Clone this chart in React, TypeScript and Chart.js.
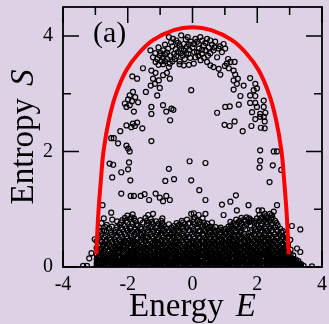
import React, { useEffect, useRef } from 'react';
import { Chart, registerables } from 'chart.js';

Chart.register(...registerables);

const BG = '#dcd1e5';
const X_TICKS = [-4, -2, 0, 2, 4];
const Y_TICKS = [0, 2, 4];
const X_MINOR = [-3, -1, 1, 3];
const Y_MINOR = [1, 3];

// red curve S(E)
const curveE = [-2.97, -2.94, -2.9, -2.83, -2.75, -2.58, -2.36, -2.04, -1.66, -1.21, -0.58, 0, 0.58, 1.21, 1.66, 2.04, 2.36, 2.58, 2.75, 2.83, 2.9, 2.94, 2.97];
const curveS = [0.22, 0.6, 1.0, 1.5, 2.0, 2.55, 3.0, 3.41, 3.7, 3.93, 4.1, 4.15, 4.1, 3.93, 3.7, 3.41, 3.0, 2.55, 2.0, 1.5, 1.0, 0.6, 0.22];

// sparse circles in the upper dome (left half)
const domeLeft: [number, number][] = [
  [-0.73, 3.98], [-0.5, 3.92], [-0.35, 4.01], [-0.21, 3.94], [-0.27, 3.86], [-0.11, 3.85], [-0.4, 3.83], [-1.3, 3.75], [-0.91, 3.75], [-0.79, 3.71],
  [-1.01, 3.66], [-0.91, 3.62], [-1.09, 3.6], [-0.96, 3.56], [-0.79, 3.6], [-0.69, 3.66], [-0.57, 3.69], [-0.45, 3.72], [-0.27, 3.75], [-0.13, 3.69],
  [-0.07, 3.62], [-0.24, 3.6], [-0.4, 3.56], [-0.55, 3.6], [-0.7, 3.52], [-0.91, 3.51], [-1.14, 3.55], [-1.22, 3.63], [-1.53, 3.44], [-1.27, 3.4],
  [-1.14, 3.36], [-0.91, 3.32], [-0.79, 3.36], [-0.7, 3.26], [-0.73, 3.46], [-0.4, 3.51], [-0.27, 3.49], [-0.11, 3.5], [-1.86, 3.3], [-1.71, 3.26],
  [-1.22, 3.26], [-1.16, 3.17], [-1.04, 3.23], [-1.29, 3.14], [-1.01, 3.1], [-1.09, 2.97], [-1.44, 3.03], [-1.84, 3.03], [-1.94, 2.97], [-1.99, 2.9],
  [-1.87, 2.87], [-1.77, 2.94], [-2.09, 2.83], [-2.04, 2.77], [-1.94, 2.8], [-1.81, 2.69], [-1.68, 2.85], [-1.27, 2.77], [-0.91, 2.8], [-0.65, 2.74],
  [-0.81, 2.69], [-1.27, 2.65], [-0.04, 3.06], [-0.6, 3.95], [-0.15, 3.98], [-0.05, 3.9], [0.0, 3.8], [-0.35, 3.78], [-0.62, 3.82], [-0.85, 3.85],
  [-1.05, 3.8], [-0.2, 3.7], [0.05, 3.72], [-0.5, 3.65], [-1.15, 3.7], [-0.66, 3.89], [-0.3, 3.66], [-0.85, 3.68], [-0.59, 2.72], [-0.69, 2.54],
  [-0.45, 3.88], [-0.18, 3.81], [-0.52, 3.77], [-0.75, 3.78], [-0.98, 3.7], [-0.36, 3.7], [-0.1, 3.76], [-0.62, 3.56], [-0.85, 3.56], [-1.05, 3.5],
];

// sparse circles in the upper dome (right half)
const domeRight: [number, number][] = [
  [0.09, 3.95], [0.24, 3.98], [0.45, 3.95], [0.55, 3.92], [0.04, 3.86], [0.19, 3.86], [0.35, 3.83], [0.5, 3.8], [0.65, 3.75], [0.81, 3.78],
  [0.96, 3.86], [1.01, 3.78], [0.91, 3.72], [0.76, 3.63], [0.14, 3.72], [0.29, 3.69], [0.09, 3.63], [0.4, 3.75], [0.45, 3.55], [0.55, 3.49],
  [0.65, 3.46], [0.81, 3.43], [0.86, 3.33], [0.04, 3.52], [1.06, 3.52], [1.17, 3.55], [1.3, 3.55], [1.12, 3.44], [1.27, 3.4], [1.32, 3.33],
  [1.4, 3.26], [1.27, 3.23], [1.37, 3.17], [1.58, 3.14], [1.27, 3.07], [1.78, 3.27], [1.94, 3.17], [1.99, 3.09], [1.89, 3.06], [1.78, 2.97],
  [1.94, 2.96], [1.48, 2.96], [1.43, 2.81], [1.01, 2.77], [1.15, 2.78], [2.2, 2.88], [1.78, 2.84], [1.94, 2.84], [1.99, 2.77], [2.2, 2.77],
  [1.84, 2.68], [2.09, 2.65], [2.25, 2.67], [0.76, 2.67], [0.3, 3.92], [0.6, 3.85], [0.2, 3.78], [0.7, 3.9], [0.85, 3.82], [0.55, 3.7],
  [0.35, 3.62], [0.25, 3.58], [1.1, 3.6], [1.0, 3.48], [0.14, 3.9], [0.4, 3.88], [0.68, 3.8], [0.3, 3.76], [0.48, 3.66], [0.18, 3.66],
];

// scattered circles between the dome and the dense band
const middlePoints: [number, number][] = [
  [-2.04, 2.45], [-1.89, 2.42], [-1.84, 2.48], [-1.71, 2.5], [-1.78, 2.44], [-1.55, 2.4], [-2.23, 2.35], [-2.51, 2.23], [-2.43, 2.23], [-2.3, 2.14],
  [-2.04, 2.1], [-1.99, 2.05], [-1.94, 2.0], [-1.27, 2.18], [-2.56, 1.79], [-2.45, 1.77], [-1.96, 1.81], [-1.99, 1.69], [-2.2, 1.64], [-2.48, 1.55],
  [-1.92, 1.5], [-0.73, 1.7], [-0.57, 1.52], [-0.84, 1.49], [-0.09, 1.83], [-0.04, 1.5], [-2.2, 1.27], [-1.91, 1.23], [-1.81, 1.23], [-1.6, 1.23],
  [-1.48, 1.26], [-1.14, 1.27], [-1.01, 1.2], [-0.91, 1.14], [-0.81, 1.23], [-0.7, 1.16], [-1.34, 1.16], [-2.78, 1.07],
  [0.99, 2.46], [1.15, 2.44], [1.3, 2.52], [1.55, 2.35], [1.82, 2.44], [1.94, 2.56], [2.11, 2.41], [2.23, 2.4], [2.23, 2.52], [2.09, 2.6],
  [2.2, 2.6], [2.09, 2.02], [2.51, 2.0], [2.61, 2.0], [2.09, 1.84], [2.07, 1.72], [2.48, 1.76], [2.74, 1.68], [2.38, 1.47], [0.4, 1.8],
  [0.21, 1.33], [0.4, 1.16], [0.91, 1.08], [1.17, 1.13], [1.34, 1.24], [1.73, 1.07], [2.61, 1.07],
  [-2.51, 0.94], [-2.74, 0.84], [-2.48, 0.82], [-1.81, 0.84], [-1.37, 0.9], [-1.22, 0.92], [-0.93, 0.84], [-0.04, 0.92], [-3.02, 0.48], [-3.19, 0.15],
  [-3.38, 0.02], [-3.26, 0.02], [-3.12, 0.24], [0.96, 0.9], [1.37, 0.98], [1.17, 0.78], [2.04, 0.98], [2.15, 0.98], [2.51, 0.96], [2.45, 0.9],
  [2.3, 0.84], [3.07, 0.71], [3.33, 0.65], [3.02, 0.47], [3.33, 0.26], [3.23, 0.32], [3.69, 0.01], [0.04, 0.93], [0.19, 0.9], [0.4, 0.92],
  [0.45, 0.75], [0.6, 0.77],
];

// dense band near S = 0: each entry is an energy column and the entropies of its circles
const bandColumns: [number, number[]][] = [
  [-2.96, [0.02, 0.07, 0.13, 0.21, 0.33, 0.45]],
  [-2.89, [0.03, 0.1, 0.17, 0.26, 0.37, 0.52, 0.68]],
  [-2.81, [0.02, 0.06, 0.12, 0.23, 0.32, 0.43, 0.57, 0.76]],
  [-2.73, [0.04, 0.11, 0.18, 0.28, 0.39, 0.51, 0.63]],
  [-2.65, [0.02, 0.08, 0.15, 0.22, 0.34, 0.46, 0.61, 0.73]],
  [-2.57, [0.03, 0.1, 0.19, 0.27, 0.38, 0.5, 0.67]],
  [-2.49, [0.02, 0.06, 0.14, 0.2, 0.31, 0.43, 0.56, 0.7]],
  [-2.41, [0.05, 0.11, 0.17, 0.26, 0.36, 0.48, 0.59]],
  [-2.33, [0.02, 0.08, 0.13, 0.23, 0.32, 0.4, 0.54, 0.69, 0.79]],
  [-2.25, [0.03, 0.09, 0.18, 0.27, 0.35, 0.47, 0.6, 0.73]],
  [-2.17, [0.02, 0.07, 0.12, 0.21, 0.3, 0.41, 0.52, 0.65, 0.81]],
  [-2.09, [0.04, 0.1, 0.16, 0.25, 0.34, 0.45, 0.57, 0.71, 0.85]],
  [-2.01, [0.02, 0.08, 0.15, 0.22, 0.29, 0.38, 0.49, 0.63, 0.77, 0.89]],
  [-1.93, [0.03, 0.09, 0.17, 0.24, 0.36, 0.46, 0.58, 0.67, 0.83]],
  [-1.85, [0.02, 0.06, 0.13, 0.19, 0.28, 0.39, 0.48, 0.61, 0.75, 0.91]],
  [-1.77, [0.04, 0.11, 0.16, 0.25, 0.33, 0.42, 0.56, 0.65, 0.8]],
  [-1.69, [0.02, 0.08, 0.14, 0.22, 0.31, 0.4, 0.51, 0.62, 0.71]],
  [-1.61, [0.03, 0.09, 0.18, 0.26, 0.35, 0.47, 0.58, 0.69, 0.81]],
  [-1.53, [0.02, 0.07, 0.12, 0.2, 0.3, 0.39, 0.5, 0.6, 0.77]],
  [-1.45, [0.05, 0.1, 0.17, 0.24, 0.33, 0.44, 0.53, 0.66, 0.85]],
  [-1.37, [0.02, 0.08, 0.14, 0.21, 0.29, 0.4, 0.52, 0.64, 0.76]],
  [-1.29, [0.03, 0.09, 0.16, 0.26, 0.35, 0.45, 0.57, 0.7, 0.83]],
  [-1.21, [0.02, 0.07, 0.13, 0.19, 0.28, 0.37, 0.49, 0.61, 0.74]],
  [-1.13, [0.04, 0.1, 0.17, 0.24, 0.34, 0.44, 0.55, 0.68, 0.79]],
  [-1.05, [0.02, 0.08, 0.14, 0.22, 0.31, 0.42, 0.52, 0.63, 0.75]],
  [-0.97, [0.03, 0.09, 0.16, 0.26, 0.36, 0.46, 0.59, 0.71, 0.8]],
  [-0.89, [0.02, 0.06, 0.13, 0.2, 0.29, 0.39, 0.51, 0.62, 0.72]],
  [-0.81, [0.04, 0.11, 0.17, 0.24, 0.34, 0.45, 0.56, 0.67]],
  [-0.73, [0.02, 0.08, 0.14, 0.21, 0.3, 0.41, 0.53, 0.64, 0.74]],
  [-0.65, [0.03, 0.09, 0.16, 0.26, 0.37, 0.47, 0.58, 0.68]],
  [-0.57, [0.02, 0.07, 0.13, 0.2, 0.28, 0.39, 0.5, 0.6, 0.71]],
  [-0.49, [0.04, 0.1, 0.17, 0.24, 0.33, 0.43, 0.54, 0.66, 0.76]],
  [-0.41, [0.02, 0.08, 0.14, 0.22, 0.31, 0.41, 0.52, 0.63, 0.73]],
  [-0.33, [0.03, 0.09, 0.16, 0.25, 0.35, 0.46, 0.58, 0.7, 0.8]],
  [-0.25, [0.02, 0.06, 0.13, 0.2, 0.29, 0.39, 0.5, 0.62, 0.74]],
  [-0.17, [0.04, 0.11, 0.17, 0.24, 0.33, 0.44, 0.56, 0.68, 0.82]],
  [-0.09, [0.02, 0.08, 0.14, 0.21, 0.3, 0.4, 0.51, 0.63, 0.76]],
  [-0.01, [0.03, 0.09, 0.16, 0.25, 0.35, 0.45, 0.57, 0.7]],
  [0.07, [0.02, 0.07, 0.13, 0.2, 0.28, 0.38, 0.49, 0.6, 0.74, 0.86]],
  [0.15, [0.04, 0.1, 0.17, 0.24, 0.34, 0.44, 0.56, 0.68, 0.8]],
  [0.23, [0.02, 0.08, 0.14, 0.21, 0.3, 0.4, 0.51, 0.63, 0.78]],
  [0.31, [0.03, 0.09, 0.16, 0.26, 0.36, 0.47, 0.58, 0.7, 0.84]],
  [0.39, [0.02, 0.06, 0.13, 0.2, 0.29, 0.39, 0.5, 0.62, 0.72]],
  [0.47, [0.04, 0.11, 0.17, 0.24, 0.33, 0.43, 0.54, 0.66]],
  [0.55, [0.02, 0.08, 0.14, 0.22, 0.31, 0.41, 0.52, 0.64, 0.7]],
  [0.63, [0.03, 0.09, 0.16, 0.25, 0.35, 0.45, 0.56, 0.66]],
  [0.71, [0.02, 0.07, 0.13, 0.2, 0.29, 0.39, 0.5, 0.6, 0.69]],
  [0.79, [0.04, 0.1, 0.17, 0.24, 0.33, 0.43, 0.53, 0.63]],
  [0.87, [0.02, 0.08, 0.14, 0.21, 0.3, 0.4, 0.5, 0.6, 0.68]],
  [0.95, [0.03, 0.09, 0.16, 0.25, 0.34, 0.44, 0.54, 0.64]],
  [1.03, [0.02, 0.06, 0.13, 0.2, 0.29, 0.38, 0.48, 0.58, 0.66]],
  [1.11, [0.04, 0.11, 0.17, 0.24, 0.33, 0.42, 0.52, 0.62, 0.7]],
  [1.19, [0.02, 0.08, 0.14, 0.22, 0.31, 0.41, 0.51, 0.6, 0.72]],
  [1.27, [0.03, 0.09, 0.16, 0.25, 0.34, 0.44, 0.55, 0.66, 0.76]],
  [1.35, [0.02, 0.07, 0.13, 0.2, 0.29, 0.39, 0.5, 0.62, 0.74, 0.82]],
  [1.43, [0.04, 0.1, 0.17, 0.24, 0.33, 0.43, 0.54, 0.66, 0.78]],
  [1.51, [0.02, 0.08, 0.14, 0.21, 0.3, 0.4, 0.51, 0.63, 0.75, 0.85]],
  [1.59, [0.03, 0.09, 0.16, 0.26, 0.36, 0.47, 0.58, 0.7, 0.82]],
  [1.67, [0.02, 0.06, 0.13, 0.2, 0.29, 0.39, 0.5, 0.74, 0.86]],
  [1.75, [0.04, 0.11, 0.17, 0.24, 0.33, 0.43, 0.54, 0.78, 0.84]],
  [1.83, [0.02, 0.08, 0.14, 0.22, 0.31, 0.41, 0.52, 0.64, 0.8]],
  [1.91, [0.03, 0.09, 0.16, 0.25, 0.35, 0.46, 0.57, 0.68, 0.76]],
  [1.99, [0.02, 0.07, 0.13, 0.2, 0.29, 0.39, 0.5, 0.62, 0.74, 0.84]],
  [2.07, [0.04, 0.1, 0.17, 0.24, 0.33, 0.44, 0.55, 0.67, 0.8, 0.9]],
  [2.15, [0.02, 0.08, 0.14, 0.21, 0.3, 0.4, 0.51, 0.63, 0.75, 0.86]],
  [2.23, [0.03, 0.09, 0.16, 0.26, 0.36, 0.47, 0.59, 0.7, 0.82, 0.92]],
  [2.31, [0.02, 0.06, 0.13, 0.2, 0.29, 0.39, 0.5, 0.62, 0.74, 0.86]],
  [2.39, [0.04, 0.11, 0.17, 0.24, 0.33, 0.43, 0.55, 0.67, 0.8, 0.92]],
  [2.47, [0.02, 0.08, 0.14, 0.22, 0.31, 0.41, 0.52, 0.64, 0.76, 0.86]],
  [2.55, [0.03, 0.09, 0.16, 0.25, 0.35, 0.46, 0.57, 0.69, 0.8]],
  [2.63, [0.02, 0.07, 0.13, 0.2, 0.29, 0.39, 0.5, 0.62, 0.72]],
  [2.71, [0.04, 0.1, 0.17, 0.24, 0.33, 0.44, 0.55, 0.66]],
  [2.79, [0.02, 0.08, 0.14, 0.21, 0.3, 0.4, 0.52, 0.62]],
  [2.87, [0.03, 0.09, 0.16, 0.25, 0.35, 0.46, 0.56]],
  [2.95, [0.02, 0.06, 0.11, 0.18, 0.27, 0.38]],
  [3.03, [0.02, 0.06, 0.1, 0.15, 0.22, 0.3]],
  [3.11, [0.02, 0.05, 0.09, 0.14, 0.2]],
  [3.19, [0.02, 0.05, 0.09, 0.13]],
  [3.27, [0.02, 0.06, 0.1]],
  [3.35, [0.02, 0.05]],
  [3.43, [0.02]],
];

// extra circles filling the darkest lower part of the band (between the columns above)
const bandLower: [number, number[]][] = [
  [-2.92, [0.01, 0.05, 0.1, 0.17, 0.27]],
  [-2.77, [0.02, 0.05, 0.09, 0.15, 0.25, 0.36]],
  [-2.61, [0.01, 0.05, 0.11, 0.18, 0.29, 0.41]],
  [-2.45, [0.02, 0.04, 0.09, 0.16, 0.23, 0.33]],
  [-2.29, [0.01, 0.05, 0.1, 0.18, 0.27, 0.38]],
  [-2.13, [0.02, 0.05, 0.09, 0.15, 0.24, 0.35, 0.44]],
  [-1.97, [0.01, 0.04, 0.11, 0.19, 0.27, 0.41]],
  [-1.81, [0.02, 0.05, 0.1, 0.16, 0.23, 0.33, 0.44]],
  [-1.65, [0.01, 0.05, 0.09, 0.17, 0.28, 0.37]],
  [-1.49, [0.02, 0.04, 0.1, 0.15, 0.26, 0.35, 0.46]],
  [-1.33, [0.01, 0.05, 0.11, 0.18, 0.24, 0.34]],
  [-1.17, [0.02, 0.05, 0.09, 0.14, 0.22, 0.3, 0.41]],
  [-1.01, [0.01, 0.04, 0.1, 0.19, 0.27, 0.39]],
  [-0.85, [0.02, 0.05, 0.11, 0.16, 0.24, 0.34, 0.45]],
  [-0.69, [0.01, 0.05, 0.09, 0.18, 0.26, 0.36]],
  [-0.53, [0.02, 0.04, 0.1, 0.15, 0.23, 0.31, 0.44]],
  [-0.37, [0.01, 0.05, 0.11, 0.19, 0.27, 0.38]],
  [-0.21, [0.02, 0.05, 0.09, 0.17, 0.24, 0.35, 0.47]],
  [-0.05, [0.01, 0.04, 0.1, 0.14, 0.22, 0.32, 0.42]],
  [0.11, [0.02, 0.05, 0.11, 0.18, 0.26, 0.37]],
  [0.27, [0.01, 0.05, 0.09, 0.16, 0.25, 0.34, 0.45]],
  [0.43, [0.02, 0.04, 0.1, 0.19, 0.27, 0.36]],
  [0.59, [0.01, 0.05, 0.11, 0.15, 0.23, 0.33, 0.43]],
  [0.75, [0.02, 0.05, 0.09, 0.18, 0.26, 0.37]],
  [0.91, [0.01, 0.04, 0.1, 0.16, 0.24, 0.35, 0.46]],
  [1.07, [0.02, 0.05, 0.11, 0.19, 0.27, 0.38]],
  [1.23, [0.01, 0.05, 0.09, 0.15, 0.23, 0.32, 0.44]],
  [1.39, [0.02, 0.04, 0.1, 0.18, 0.26, 0.36, 0.46]],
  [1.55, [0.01, 0.05, 0.11, 0.16, 0.24, 0.35]],
  [1.71, [0.02, 0.05, 0.09, 0.19, 0.27, 0.38, 0.47]],
  [1.87, [0.01, 0.04, 0.1, 0.15, 0.23, 0.33, 0.44]],
  [2.03, [0.02, 0.05, 0.11, 0.18, 0.26, 0.36, 0.48]],
  [2.19, [0.01, 0.05, 0.09, 0.16, 0.24, 0.35, 0.45]],
  [2.35, [0.02, 0.04, 0.1, 0.19, 0.27, 0.37, 0.49]],
  [2.51, [0.01, 0.05, 0.11, 0.15, 0.23, 0.34, 0.44]],
  [2.67, [0.02, 0.05, 0.09, 0.18, 0.26, 0.36]],
  [2.83, [0.01, 0.04, 0.1, 0.16, 0.24, 0.33]],
  [2.99, [0.01, 0.04, 0.08, 0.13, 0.19]],
  [3.07, [0.01, 0.04, 0.07, 0.12]],
  [3.15, [0.01, 0.04, 0.08, 0.11]],
  [3.23, [0.01, 0.04, 0.07]],
  [3.31, [0.01, 0.04]],
];

// more circles in the middle layer of the band
const bandMiddle: [number, number[]][] = [
  [-2.85, [0.08, 0.2, 0.31, 0.47, 0.62]],
  [-2.69, [0.06, 0.19, 0.33, 0.44, 0.55, 0.69]],
  [-2.53, [0.09, 0.23, 0.35, 0.47, 0.6]],
  [-2.37, [0.07, 0.2, 0.29, 0.43, 0.52, 0.64]],
  [-2.21, [0.05, 0.16, 0.32, 0.44, 0.56, 0.68, 0.77]],
  [-2.05, [0.08, 0.19, 0.31, 0.42, 0.53, 0.67, 0.8]],
  [-1.89, [0.06, 0.22, 0.34, 0.44, 0.54, 0.7, 0.86]],
  [-1.73, [0.09, 0.2, 0.29, 0.38, 0.49, 0.6, 0.74]],
  [-1.57, [0.07, 0.18, 0.33, 0.43, 0.55, 0.66]],
  [-1.41, [0.05, 0.21, 0.3, 0.39, 0.5, 0.61, 0.73, 0.8]],
  [-1.25, [0.08, 0.18, 0.31, 0.41, 0.53, 0.66, 0.78]],
  [-1.09, [0.06, 0.2, 0.29, 0.39, 0.49, 0.6, 0.71]],
  [-0.93, [0.09, 0.23, 0.33, 0.43, 0.55, 0.66, 0.76]],
  [-0.77, [0.07, 0.19, 0.28, 0.38, 0.5, 0.61]],
  [-0.61, [0.05, 0.22, 0.32, 0.42, 0.53, 0.64]],
  [-0.45, [0.08, 0.2, 0.29, 0.39, 0.5, 0.61, 0.71]],
  [-0.29, [0.06, 0.18, 0.31, 0.43, 0.54, 0.66, 0.77]],
  [-0.13, [0.09, 0.21, 0.3, 0.4, 0.52, 0.64, 0.75]],
  [0.03, [0.07, 0.19, 0.32, 0.42, 0.53, 0.65, 0.78, 0.83]],
  [0.19, [0.05, 0.22, 0.3, 0.4, 0.51, 0.62, 0.74]],
  [0.35, [0.08, 0.2, 0.33, 0.44, 0.55, 0.66, 0.77]],
  [0.51, [0.06, 0.19, 0.29, 0.39, 0.49, 0.6, 0.68]],
  [0.67, [0.09, 0.22, 0.31, 0.41, 0.52, 0.62]],
  [0.83, [0.07, 0.2, 0.28, 0.37, 0.47, 0.57, 0.65]],
  [0.99, [0.05, 0.18, 0.3, 0.4, 0.5, 0.6]],
  [1.15, [0.08, 0.21, 0.29, 0.38, 0.47, 0.57, 0.67]],
  [1.31, [0.06, 0.19, 0.31, 0.41, 0.52, 0.63, 0.72]],
  [1.47, [0.09, 0.22, 0.3, 0.4, 0.49, 0.6, 0.71, 0.8]],
  [1.63, [0.07, 0.2, 0.32, 0.43, 0.53, 0.65, 0.79]],
  [1.79, [0.05, 0.18, 0.29, 0.39, 0.5, 0.6, 0.72, 0.82]],
  [1.95, [0.08, 0.21, 0.31, 0.42, 0.54, 0.65, 0.79]],
  [2.11, [0.06, 0.19, 0.29, 0.38, 0.49, 0.61, 0.72, 0.84]],
  [2.27, [0.09, 0.22, 0.32, 0.44, 0.55, 0.66, 0.78, 0.88]],
  [2.43, [0.07, 0.2, 0.29, 0.39, 0.5, 0.62, 0.73, 0.84]],
  [2.59, [0.05, 0.18, 0.31, 0.42, 0.52, 0.64, 0.76]],
  [2.75, [0.08, 0.21, 0.29, 0.38, 0.49, 0.6]],
  [2.91, [0.06, 0.14, 0.22, 0.31, 0.42, 0.51]],
];

const SERIF = '"Liberation Serif", "Times New Roman", serif';

const decoPlugin = {
  id: 'deco',
  beforeDraw(chart: any) {
    const { ctx, width, height } = chart;
    ctx.save();
    ctx.fillStyle = BG;
    ctx.fillRect(0, 0, width, height);
    ctx.restore();
  },
  afterDraw(chart: any) {
    const { ctx, chartArea, scales } = chart;
    const { left, right, top, bottom } = chartArea;
    const xs = scales.x;
    const ys = scales.y;
    ctx.save();
    ctx.strokeStyle = '#000';
    ctx.lineWidth = 1.8;
    ctx.strokeRect(left, top, right - left, bottom - top);
    ctx.lineWidth = 1.5;
    ctx.beginPath();
    const major = 16;
    const minor = 8;
    X_TICKS.concat(X_MINOR).forEach((v) => {
      const px = xs.getPixelForValue(v);
      const len = X_TICKS.includes(v) ? major : minor;
      ctx.moveTo(px, bottom);
      ctx.lineTo(px, bottom - len);
      ctx.moveTo(px, top);
      ctx.lineTo(px, top + len);
    });
    Y_TICKS.concat(Y_MINOR).forEach((v) => {
      const py = ys.getPixelForValue(v);
      const len = Y_TICKS.includes(v) ? major : minor;
      ctx.moveTo(left, py);
      ctx.lineTo(left + len, py);
      ctx.moveTo(right, py);
      ctx.lineTo(right - len, py);
    });
    ctx.stroke();

    ctx.fillStyle = '#000';
    ctx.textBaseline = 'alphabetic';
    ctx.textAlign = 'left';
    const normal = `33px ${SERIF}`;
    const italic = `italic 33px ${SERIF}`;
    const gap = 12;

    // x title
    ctx.font = normal;
    const w1 = ctx.measureText('Energy').width;
    ctx.font = italic;
    const w2 = ctx.measureText('E').width;
    const sx = (left + right) / 2 - (w1 + gap + w2) / 2;
    ctx.font = normal;
    ctx.fillText('Energy', sx, 316);
    ctx.font = italic;
    ctx.fillText('E', sx + w1 + gap, 316);

    // y title
    ctx.save();
    ctx.translate(33, (top + bottom) / 2);
    ctx.rotate(-Math.PI / 2);
    ctx.font = normal;
    const v1 = ctx.measureText('Entropy').width;
    ctx.font = italic;
    const v2 = ctx.measureText('S').width;
    const sy = -(v1 + gap + v2) / 2;
    ctx.font = normal;
    ctx.fillText('Entropy', sy, 0);
    ctx.font = italic;
    ctx.fillText('S', sy + v1 + gap, 0);
    ctx.restore();

    // panel label
    ctx.font = `30px ${SERIF}`;
    ctx.fillText('(a)', 93, 42);
    ctx.restore();
  },
};

export default function App() {
  const ref = useRef<HTMLCanvasElement | null>(null);
  useEffect(() => {
    document.body.style.margin = '0';
    document.body.style.background = BG;
    const canvas = ref.current;
    if (!canvas) return;
    const cols = (list: [number, number[]][]) => list.flatMap(([e, ss]) => ss.map((s) => ({ x: e, y: s })));
    const scatter = [
      ...domeLeft.map(([x, y]) => ({ x, y })),
      ...domeRight.map(([x, y]) => ({ x, y })),
      ...middlePoints.map(([x, y]) => ({ x, y })),
      ...cols(bandColumns),
      ...cols(bandLower),
      ...cols(bandMiddle),
    ];
    const curve = curveE.map((e, i) => ({ x: e, y: curveS[i] }));
    const chart = new Chart(canvas, {
      type: 'scatter',
      data: {
        datasets: [
          {
            data: curve,
            showLine: true,
            borderColor: '#ff0000',
            borderWidth: 4,
            pointRadius: 0,
            tension: 0.4,
            fill: false,
            borderCapStyle: 'butt',
            order: 0,
          } as any,
          {
            data: scatter,
            showLine: false,
            pointRadius: 2.5,
            pointBorderWidth: 1.2,
            pointBorderColor: '#000',
            pointBackgroundColor: 'rgba(0,0,0,0)',
            order: 1,
          } as any,
        ],
      },
      options: {
        animation: false,
        responsive: true,
        maintainAspectRatio: false,
        layout: { padding: { top: 7, right: 7, left: 0, bottom: 0 } },
        plugins: { legend: { display: false }, tooltip: { enabled: false } },
        scales: {
          x: {
            type: 'linear',
            min: -4,
            max: 4,
            grid: { display: false, drawTicks: false },
            border: { display: false },
            afterFit: (s: any) => { s.height = 57; s.paddingLeft = 0; s.paddingRight = 0; },
            afterBuildTicks: (s: any) => { s.ticks = X_TICKS.map((v) => ({ value: v })); },
            ticks: {
              padding: 6,
              color: '#000',
              font: { family: SERIF, size: 20 },
              maxRotation: 0,
              callback: (v: any) => String(v),
            },
          },
          y: {
            type: 'linear',
            min: 0,
            max: 4.5,
            grid: { display: false, drawTicks: false },
            border: { display: false },
            afterFit: (s: any) => { s.width = 63; s.paddingTop = 0; s.paddingBottom = 0; },
            afterBuildTicks: (s: any) => { s.ticks = Y_TICKS.map((v) => ({ value: v })); },
            ticks: {
              padding: 10,
              color: '#000',
              font: { family: SERIF, size: 20 },
              callback: (v: any) => String(v),
            },
          },
        },
      },
      plugins: [decoPlugin],
    });
    return () => chart.destroy();
  }, []);
  return (
    <div style={{ width: 329, height: 324, position: 'relative', background: BG }}>
      <canvas ref={ref} />
    </div>
  );
}
